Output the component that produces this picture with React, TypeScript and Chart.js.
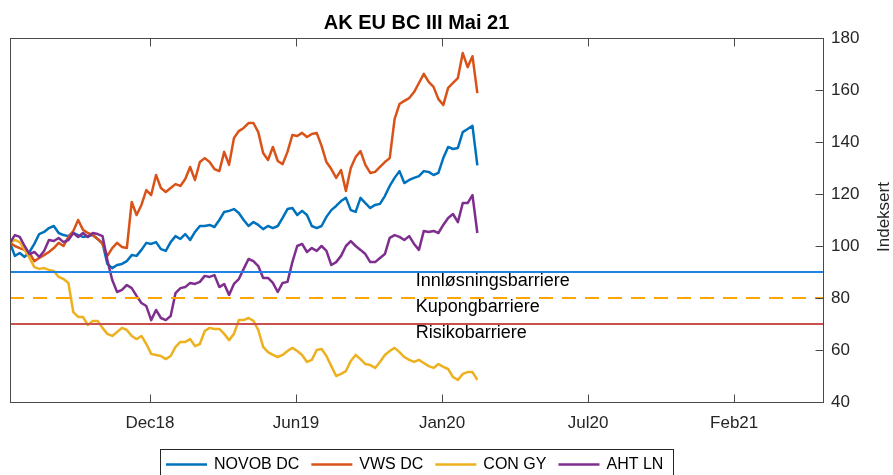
import React, { useEffect, useRef } from 'react';
import { Chart, registerables } from 'chart.js';

Chart.register(...registerables);

const TITLE = 'AK EU BC III Mai 21';
const Y_TITLE = 'Indeksert';
const FONT = '"Liberation Sans", Arial, Helvetica, sans-serif';

// x axis in days from the start of the axis; one observation every 6 days
const STEP_DAYS = 6;
const X_MAX_DAYS = 1002;
const xTickDays = [172.5, 352.5, 532.5, 712.5, 892.5];
const xTickLabels = ['Dec18', 'Jun19', 'Jan20', 'Jul20', 'Feb21'];
const Y_MIN = 40;
const Y_MAX = 180;
const Y_STEP = 20;

const seriesNames = ['NOVOB DC', 'VWS DC', 'CON GY', 'AHT LN'];
const seriesColors = ['#0072BD', '#D95319', '#EDB120', '#7E2F8E'];

const novob = [
  101.2, 96.2, 97.3, 95.8, 97.7, 100.8, 104.6, 105.4, 106.9, 107.7,
  105, 104.2, 103.8, 105, 104.2, 103.5, 103.8, 104.2, 102.7, 101.2,
  93.1, 91.5, 92.7, 93.1, 94.2, 96.5, 96.2, 98.5, 101.2, 100.8,
  101.5, 98.8, 98.1, 101.5, 103.8, 102.7, 104.6, 102.3, 105.4, 107.7,
  107.7, 108.1, 107.3, 110, 113.1, 113.5, 114.2, 112.7, 110, 107.7,
  109.2, 108.1, 106.5, 107.7, 106.9, 107.7, 110.8, 114.2, 114.6, 111.9,
  113.5, 111.9, 107.7, 106.9, 107.7, 111.2, 113.8, 115.4, 117.3, 118.5,
  113.8, 113.1, 118.5, 116.5, 114.6, 115.8, 116.2, 119.2, 123.1, 126.2,
  128.8, 124.2, 125.4, 126.2, 126.9, 128.8, 128.5, 127.3, 128.1, 133.8,
  138.1, 137.3, 137.7, 143.8, 145, 146.2, 131,
];

const vws = [
  101.2, 100, 99.2, 98.5, 97.3, 94.2, 95.4, 96.5, 97.7, 99.2,
  101.2, 100, 103.5, 105.8, 110, 106.2, 105, 104.2, 102.7, 100.8,
  96.2, 99.2, 101.2, 99.6, 99.2, 116.9, 111.9, 115.8, 121.5, 119.6,
  127.3, 122.3, 120.8, 122.3, 123.8, 123.1, 125.8, 130.4, 125.4, 132.3,
  133.8, 132.3, 129.6, 128.8, 136.2, 131.2, 141.5, 144.2, 145.4, 147.3,
  147.3, 143.8, 135.8, 133.1, 138.1, 132.7, 131.5, 136.2, 142.7, 142.3,
  143.5, 141.9, 143.1, 143.5, 138.5, 132.3, 129.6, 126.2, 129.2, 121.2,
  130, 134.2, 136.5, 131.2, 128.1, 128.5, 130.4, 132.3, 133.8, 148.8,
  154.6, 155.8, 156.9, 159.2, 162.7, 166.2, 163.1, 161.2, 156.5, 154.2,
  160.8, 162.7, 164.6, 174.2, 168.8, 173, 158.8,
];

const con = [
  101.2, 102.3, 101.5, 98.5, 95.4, 91.9, 91.2, 91.5, 90.8, 90.4,
  88.1, 87.3, 85.8, 74.6, 72.7, 72.7, 69.6, 71.2, 71.2, 68.5,
  66.2, 65.4, 66.9, 68.5, 67.7, 65.4, 64.2, 65.4, 62.3, 58.5,
  58.1, 57.7, 56.5, 57.7, 61.2, 63.1, 63.1, 64.2, 61.5, 62.3,
  67.3, 68.5, 68.1, 68.1, 66.2, 63.8, 66.2, 71.5, 71.5, 72.3,
  71.2, 67.7, 61.2, 59.2, 58.1, 57.3, 58.1, 59.6, 60.8, 59.6,
  58.1, 55.4, 56.2, 60, 60.4, 57.7, 53.8, 50, 50.8, 51.9,
  55.8, 58.1, 56.5, 54.6, 54.2, 53.1, 55.4, 58.1, 59.6, 60.8,
  59.2, 57.3, 56.2, 55.4, 56.2, 55, 53.8, 53.1, 54.6, 53.5,
  52.7, 49.6, 48.5, 50.8, 51.5, 51.5, 48.5,
];

const aht = [
  101.2, 104.2, 103.5, 100, 96.9, 97.7, 95.8, 98.1, 102.3, 101.9,
  103.1, 101.5, 102.3, 105, 103.5, 105, 103.5, 105, 104.6, 103.8,
  94.6, 86.9, 82.3, 83.1, 85, 83.8, 80.8, 78.1, 76.9, 71.5,
  75.4, 72.3, 71.5, 73.1, 81.9, 83.8, 84.2, 85.8, 85.4, 86.2,
  88.5, 88.1, 88.8, 84.2, 85.4, 81.2, 85.4, 87.3, 91.2, 95,
  94.2, 92.3, 87.7, 87.7, 85.8, 82.3, 85.8, 86.2, 93.8, 100,
  100.8, 97.7, 99.2, 98.1, 100, 98.1, 92.7, 93.8, 96.2, 100,
  101.9, 100, 98.5, 96.9, 93.8, 93.8, 95.4, 96.9, 103.1, 104.2,
  103.5, 102.3, 103.8, 100.8, 98.5, 105.8, 105.4, 105.8, 105, 108.1,
  110.8, 112.3, 109.2, 116.5, 116.5, 119.6, 105,
];

const barrierLevels = [90, 80, 70];
const barrierNames = ['Innløsningsbarriere', 'Kupongbarriere', 'Risikobarriere'];
const barrierColors = ['#1E82E6', '#FFA500', '#C9504D'];
const barrierDashes = [[], [14, 9], []];
const BARRIER_LABEL_DAY = 500;

const days = novob.map((_, i) => i * STEP_DAYS);
const seriesValues = [novob, vws, con, aht];

const overlayPlugin = {
  id: 'overlay',
  afterDatasetsDraw(chart: any) {
    const { ctx, scales } = chart;
    const xs = scales.x;
    const ys = scales.y;
    ctx.save();
    ctx.font = `18px ${FONT}`;
    ctx.fillStyle = '#000';
    ctx.textAlign = 'left';
    ctx.textBaseline = 'alphabetic';
    barrierLevels.forEach((lv, i) => {
      ctx.fillText(barrierNames[i], xs.getPixelForValue(BARRIER_LABEL_DAY), ys.getPixelForValue(lv) + 13.5);
    });
    ctx.restore();
  },
  afterDraw(chart: any) {
    const { ctx, chartArea: a, scales } = chart;
    const xs = scales.x;
    const ys = scales.y;
    ctx.save();
    // axes box
    ctx.strokeStyle = '#4a4a4a';
    ctx.lineWidth = 1;
    const L = Math.round(a.left) + 0.5;
    const R = Math.round(a.right) + 0.5;
    const T = Math.round(a.top) + 0.5;
    const B = Math.round(a.bottom) + 0.5;
    ctx.strokeRect(L, T, R - L, B - T);
    // inward tick marks
    ctx.beginPath();
    for (let v = Y_MIN + Y_STEP; v < Y_MAX; v += Y_STEP) {
      const y = Math.round(ys.getPixelForValue(v)) + 0.5;
      ctx.moveTo(R - 8, y);
      ctx.lineTo(R, y);
    }
    xTickDays.forEach((d) => {
      const x = Math.round(xs.getPixelForValue(d)) + 0.5;
      ctx.moveTo(x, B);
      ctx.lineTo(x, B - 8);
      ctx.moveTo(x, T);
      ctx.lineTo(x, T + 8);
    });
    ctx.stroke();

    // title
    ctx.fillStyle = '#000';
    ctx.font = `bold 20px ${FONT}`;
    ctx.textAlign = 'center';
    ctx.textBaseline = 'alphabetic';
    ctx.fillText(TITLE, (a.left + a.right) / 2, 29);

    // y axis title (rotated, reading upwards)
    ctx.save();
    ctx.translate(889, (a.top + a.bottom) / 2 - 3);
    ctx.rotate(-Math.PI / 2);
    ctx.font = `17px ${FONT}`;
    ctx.fillStyle = '#262626';
    ctx.textAlign = 'center';
    ctx.textBaseline = 'alphabetic';
    ctx.fillText(Y_TITLE, 0, 0);
    ctx.restore();

    // legend box
    const boxL = 160.5;
    const boxT = 449.5;
    const boxW = 513;
    const boxH = 28;
    ctx.fillStyle = '#fff';
    ctx.fillRect(boxL, boxT, boxW, boxH);
    ctx.strokeStyle = '#262626';
    ctx.lineWidth = 1;
    ctx.strokeRect(boxL, boxT, boxW, boxH);
    ctx.font = `16px ${FONT}`;
    ctx.textAlign = 'left';
    ctx.textBaseline = 'middle';
    let x = 166;
    const ly = 464.5;
    seriesNames.forEach((name, i) => {
      ctx.strokeStyle = seriesColors[i];
      ctx.lineWidth = 2.4;
      ctx.beginPath();
      ctx.moveTo(x, ly);
      ctx.lineTo(x + 41, ly);
      ctx.stroke();
      ctx.fillStyle = '#000';
      ctx.fillText(name, x + 48, ly + 0.5);
      x += 48 + ctx.measureText(name).width + 12;
    });
    ctx.restore();
  },
};

export default function App() {
  const canvasRef = useRef<HTMLCanvasElement | null>(null);

  useEffect(() => {
    const canvas = canvasRef.current;
    if (!canvas) return;

    const seriesDatasets = seriesValues.map((vals, i) => ({
      label: seriesNames[i],
      data: vals.map((v, j) => ({ x: days[j], y: v })),
      borderColor: seriesColors[i],
      backgroundColor: seriesColors[i],
      borderWidth: 2.5,
      borderJoinStyle: 'round',
      pointRadius: 0,
      tension: 0,
      fill: false,
      order: 4 - i,
    }));

    const barrierDatasets = barrierLevels.map((lv, i) => ({
      label: barrierNames[i],
      data: [
        { x: 0, y: lv },
        { x: X_MAX_DAYS, y: lv },
      ],
      borderColor: barrierColors[i],
      backgroundColor: barrierColors[i],
      borderWidth: 2,
      borderDash: barrierDashes[i],
      pointRadius: 0,
      fill: false,
      order: 0,
    }));

    const chart = new Chart(canvas, {
      type: 'line',
      data: { datasets: [...barrierDatasets, ...seriesDatasets] as any },
      options: {
        animation: false,
        responsive: false,
        devicePixelRatio: 1,
        layout: { padding: { left: 10, top: 38, right: 0, bottom: 0 } },
        plugins: {
          legend: { display: false },
          title: { display: false },
          tooltip: { enabled: false },
        },
        scales: {
          x: {
            type: 'linear',
            min: 0,
            max: X_MAX_DAYS,
            grid: { display: false, drawTicks: false },
            border: { display: false },
            afterBuildTicks: (s: any) => {
              s.ticks = xTickDays.map((v) => ({ value: v }));
            },
            afterFit: (s: any) => {
              s.height = 73;
            },
            ticks: {
              autoSkip: false,
              maxRotation: 0,
              minRotation: 0,
              padding: 11,
              color: '#262626',
              font: { family: FONT, size: 17 },
              callback: (v: any) => {
                const i = xTickDays.indexOf(Number(v));
                return i >= 0 ? xTickLabels[i] : '';
              },
            },
          },
          y: {
            type: 'linear',
            position: 'right',
            min: Y_MIN,
            max: Y_MAX,
            grid: { display: false, drawTicks: false },
            border: { display: false },
            afterFit: (s: any) => {
              s.width = 70;
            },
            ticks: {
              stepSize: Y_STEP,
              padding: 8,
              color: '#262626',
              font: { family: FONT, size: 17 },
            },
          },
        },
      } as any,
      plugins: [overlayPlugin],
    });

    return () => chart.destroy();
  }, []);

  return (
    <div style={{ position: 'fixed', left: 0, top: 0, width: 893, height: 475, background: '#fff' }}>
      <canvas ref={canvasRef} width={893} height={475} style={{ display: 'block' }} />
    </div>
  );
}
